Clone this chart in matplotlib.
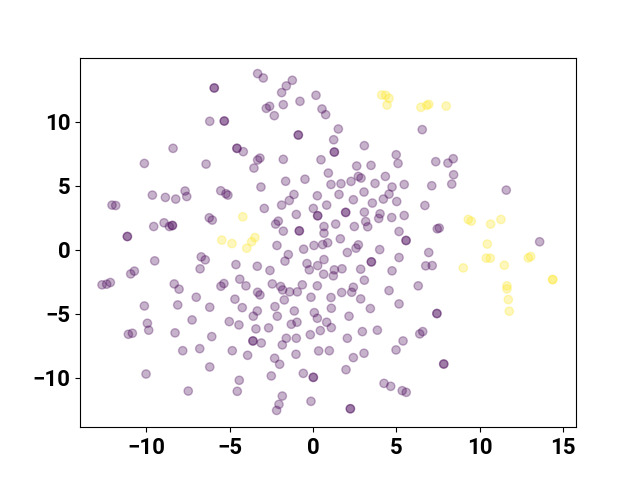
import matplotlib
matplotlib.use('Agg')
import matplotlib.pyplot as plt
import numpy as np

# class 0 (purple) embedding points (x, y); repeated entries are overlapping points
purple_xy = [
    (-5.92, 12.63), (-5.92, 12.63), (-6.19, 10.03), (-5.32, 10.05), (-5.32, 10.05),
    (-8.39, 7.92), (-4.56, 7.92), (-4.56, 7.92), (-4.18, 7.66), (-10.11, 6.74), (-6.41, 6.69),
    (-3.32, 13.75), (-2.98, 13.41), (-1.24, 13.23), (-1.60, 12.79), (-1.88, 12.27),
    (0.18, 12.06), (-0.78, 11.59), (-1.78, 11.33), (-2.60, 11.20), (-2.80, 11.04),
    (-2.32, 10.47), (0.54, 10.99), (0.76, 10.55), (1.52, 9.43), (-0.88, 8.96), (-0.88, 8.96),
    (1.24, 8.59), (1.28, 7.63), (1.28, 7.63), (3.08, 8.13), (-3.18, 7.16), (-3.32, 7.01),
    (-3.54, 6.38), (-1.78, 7.06), (0.48, 7.03), (0.92, 5.99), (2.62, 6.54), (3.48, 6.59),
    (4.99, 7.42), (5.10, 6.74), (4.34, 5.73), (2.72, 5.73), (2.88, 5.60),
    (6.55, 9.38), (7.36, 6.88), (8.09, 6.77), (8.41, 7.11), (8.43, 5.86),
    (-12.05, 3.49), (-11.83, 3.46), (-9.63, 4.27), (-8.85, 4.09), (-8.23, 3.96),
    (-7.67, 4.59), (-7.57, 4.16), (-5.53, 4.61), (-5.22, 4.38), (-5.10, 4.27),
    (-9.55, 1.82), (-8.93, 2.11), (-8.61, 1.82), (-8.43, 1.90), (-8.43, 1.90),
    (-11.13, 1.04), (-11.13, 1.04), (-6.22, 2.50), (-6.04, 2.32), (-9.49, -0.86),
    (-6.70, -0.55), (-6.46, -0.78), (-6.77, -1.48), (-4.62, -1.15), (-10.71, -1.66),
    (-10.93, -1.88), (-12.65, -2.73), (-12.37, -2.68), (-12.15, -2.55), (-8.32, -2.66),
    (-8.03, -3.07), (-5.34, -2.63), (-5.52, -2.84), (-4.39, -2.29), (-4.02, -2.81),
    (-7.00, -3.70), (-4.68, -3.85), (-10.11, -4.38), (-8.11, -4.30), (-6.19, -4.48), (-4.24, -4.51),
    (-1.64, 5.35), (-0.48, 5.51), (-3.12, 4.90), (1.08, 5.10), (1.68, 5.16), (2.28, 5.34),
    (3.72, 5.18), (4.74, 4.90), (5.47, 5.10), (-1.14, 4.32), (-1.42, 3.85), (-1.88, 3.49),
    (0.26, 4.22), (1.56, 4.32), (0.82, 3.49), (0.02, 3.23), (2.42, 3.91), (3.06, 4.51),
    (3.56, 3.65), (4.22, 3.96), (4.56, 4.35), (5.02, 3.77), (-2.92, 3.23), (-1.00, 2.76),
    (0.28, 2.66), (0.28, 2.66), (1.96, 2.92), (1.96, 2.92), (3.08, 2.94), (4.02, 2.81),
    (3.94, 2.45), (4.72, 2.52), (5.47, 2.68), (-2.08, 2.24), (-2.24, 2.01), (-1.78, 1.46),
    (-0.82, 1.48), (-0.82, 1.48), (0.66, 1.82), (0.66, 1.30), (1.36, 2.01), (2.48, 1.82),
    (3.16, 2.21), (3.28, 1.80), (5.16, 1.43), (5.58, 0.73), (5.58, 0.73), (-2.16, 0.34),
    (-1.48, -0.37), (-1.68, -0.88), (-0.56, 0.05), (0.06, 0.34), (0.58, 0.41), (0.88, 0.55),
    (1.64, 0.86), (2.06, -0.21), (2.58, 0.13), (2.72, 0.39), (4.00, 0.02), (3.50, -0.94),
    (3.50, -0.94), (5.16, -0.60), (4.74, -1.64), (0.66, -0.76), (0.28, -1.23), (-0.36, -1.07),
    (-0.22, -1.56), (0.64, -1.90), (1.28, -1.56), (1.22, -2.03), (1.74, -1.48), (2.86, -1.51),
    (3.08, -2.37), (-3.34, -1.28), (-2.58, -1.61), (-2.44, -2.66), (-1.94, -2.86), (-1.82, -3.13),
    (-1.40, -3.28), (-0.94, -3.28), (-0.64, -2.73), (0.26, -2.81), (1.72, -3.33), (2.32, -3.31),
    (2.42, -2.92), (4.56, -3.18), (-3.18, -3.52), (-3.32, -3.31), (-1.72, -3.91), (-0.12, -3.70),
    (1.08, -3.72), (2.86, -3.83),
    (-3.34, -4.77), (-3.58, -5.18), (-2.28, -4.43), (-1.12, -4.77), (0.08, -4.90), (0.26, -5.34),
    (1.10, -4.56), (2.16, -5.18), (3.44, -4.58), (5.16, -4.22), (-2.14, -5.18), (-3.42, -6.17),
    (-2.66, -6.09), (-1.30, -5.81), (-0.96, -5.65), (0.82, -5.65), (1.10, -6.07), (0.44, -6.30),
    (-0.16, -6.62), (-1.60, -6.90), (-1.84, -7.42), (-1.00, -6.90), (-3.60, -7.11), (-3.60, -7.11),
    (-3.10, -7.27), (-3.92, -8.23), (-2.30, -8.46), (-2.00, -8.93), (-1.02, -8.15), (0.34, -7.89),
    (0.98, -7.87), (2.06, -6.90), (2.96, -6.38), (3.86, -6.27), (2.42, -8.41), (3.06, -8.07),
    (5.40, -7.11), (4.98, -7.81), (1.98, -9.35), (-2.50, -9.84), (-0.58, -9.64), (0.02, -9.95),
    (0.02, -9.95), (-1.84, -11.41), (-2.04, -12.06), (-2.18, -12.53), (-0.12, -11.82),
    (2.24, -12.40), (2.24, -12.40), (4.26, -10.42), (4.66, -10.65), (5.35, -10.99), (5.59, -11.12),
    (7.12, 5.00), (8.32, 5.13), (11.59, 4.66), (6.71, 3.46), (7.45, 1.64), (7.57, 1.70),
    (6.94, -0.21), (6.76, -1.25), (7.15, -1.23), (6.31, -2.81), (13.59, 0.63),
    (7.43, -4.97), (7.43, -4.97), (6.40, -6.56), (6.58, -6.38), (7.84, -8.91), (7.84, -8.91),
    (-9.93, -5.73), (-9.85, -6.27), (-11.07, -6.59), (-10.83, -6.51), (-7.25, -5.47),
    (-8.27, -6.48), (-5.02, -5.60), (-4.44, -5.86), (-6.07, -6.77), (-7.81, -7.87),
    (-6.79, -7.71), (-4.84, -7.87), (-6.19, -9.14), (-10.01, -9.69), (-4.42, -10.18),
    (-4.54, -11.04), (-7.48, -11.02),
]

# class 1 (yellow) embedding points
yellow_xy = [
    (4.12, 12.08), (4.36, 12.06), (4.56, 11.82), (4.44, 11.30),
    (6.47, 11.12), (6.82, 11.27), (6.94, 11.35), (7.99, 11.22),
    (-4.21, 2.58), (-5.47, 0.76), (-4.86, 0.49), (-3.48, 0.96), (-3.68, 0.63), (-3.97, 0.13),
    (9.31, 2.37), (9.49, 2.24), (10.65, 2.01), (11.27, 2.37), (10.45, 0.45),
    (10.39, -0.65), (10.63, -0.65), (9.01, -1.41), (11.47, -1.20), (12.91, -0.63),
    (13.05, -0.52), (14.37, -2.32), (14.37, -2.32), (11.63, -2.81), (11.63, -3.05),
    (11.71, -3.88), (11.77, -4.79),
]

x_ticks = [-10, -5, 0, 5, 10, 15]
y_ticks = [-10, -5, 0, 5, 10]

px, py = zip(*purple_xy)
yx, yy = zip(*yellow_xy)
x = np.array(px + yx)
y = np.array(py + yy)
labels = np.array([0] * len(px) + [1] * len(yx))

fig, ax = plt.subplots(figsize=(6.4, 4.8), dpi=100)
ax.scatter(x, y, c=labels, cmap='viridis', alpha=0.3)
ax.set_xlim(-13.97, 15.77)
ax.set_ylim(-13.84, 15.0)
ax.set_xticks(x_ticks)
ax.set_yticks(y_ticks)
for lab in ax.get_xticklabels() + ax.get_yticklabels():
    lab.set_fontfamily(['Roboto', 'DejaVu Sans'])
    lab.set_fontweight('bold')
    lab.set_fontsize(16)
fig.savefig('out.png', dpi=100)
